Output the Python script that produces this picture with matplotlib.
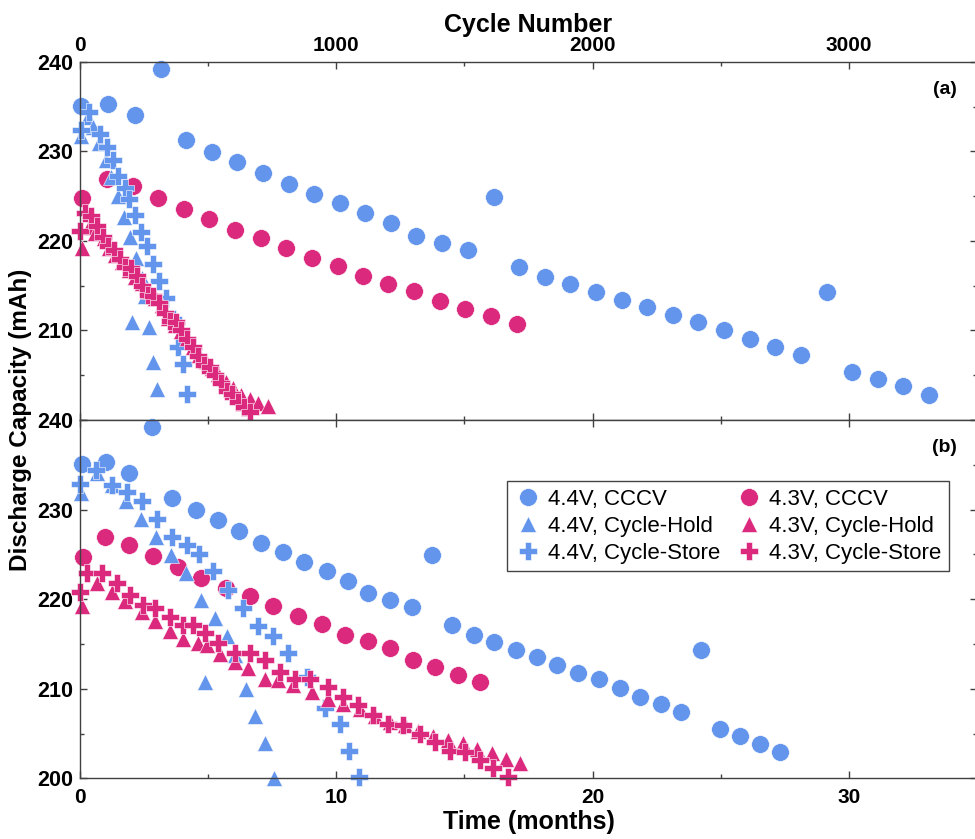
import matplotlib
matplotlib.use("Agg")
import matplotlib.pyplot as plt
from matplotlib.ticker import MultipleLocator

plt.rcParams['font.family'] = ['Liberation Sans', 'DejaVu Sans']

BLUE = '#6495ED'
PINK = '#DB2A7E'

# ---------------- Panel (a): x = cycle number ----------------
a_cccv44_x = [4, 108, 213, 315, 415, 515, 614, 714, 814, 914, 1013, 1113, 1213, 1312, 1412, 1514, 1615,
              1714, 1813, 1913, 2012, 2113, 2213, 2312, 2412, 2513, 2613, 2713, 2812, 2913, 3012, 3112, 3212, 3313]
a_cccv44_y = [235.1, 235.35, 234.1, 239.2, 231.3, 229.9, 228.8, 227.6, 226.35, 225.3, 224.3, 223.1, 222.0, 220.6,
              219.8, 219.05, 224.9, 217.1, 216.0, 215.15, 214.3, 213.4, 212.6, 211.7, 211.0, 210.0, 209.05, 208.2,
              207.3, 214.3, 205.4, 204.6, 203.8, 202.8]

a_cccv43_x = [9, 104, 207, 306, 405, 505, 605, 705, 804, 904, 1005, 1105, 1203, 1303, 1403, 1503, 1604, 1704]
a_cccv43_y = [224.75, 226.98, 226.1, 224.85, 223.6, 222.45, 221.25, 220.3, 219.2, 218.1, 217.2, 216.1, 215.2,
              214.45, 213.25, 212.35, 211.6, 210.75]

a_hold44_x = [2, 30, 52, 73, 102, 122, 148, 170, 197, 220, 241, 255, 202, 268, 286, 302]
a_hold44_y = [231.7, 233.9, 232.7, 230.9, 229.1, 227.1, 225.0, 222.7, 220.4, 218.1, 215.85, 213.8, 211.0, 210.4,
              206.5, 203.5]

a_store44_x = [4, 37, 78, 104, 130, 150, 176, 192, 215, 237, 260, 286, 310, 336, 362, 384, 401, 418]
a_store44_y = [232.4, 234.4, 232.0, 230.55, 229.0, 227.3, 225.9, 224.7, 222.9, 221.05, 219.4, 217.4, 215.5,
               213.6, 211.3, 208.2, 206.3, 202.9]

a_hold43_x = [8, 35, 60, 92, 112, 138, 164, 190, 216, 242, 268, 294, 320, 345, 370, 395, 418, 440, 465, 490,
              515, 540, 570, 598, 630, 663, 696, 735]
a_hold43_y = [219.2, 221.6, 220.9, 220.3, 219.2, 218.45, 217.7, 216.8, 216.0, 215.3, 214.4, 213.6, 212.9, 211.4,
              210.65, 209.9, 209.2, 208.2, 207.3, 206.55, 205.8, 205.1, 204.3, 203.6, 202.8, 202.3, 201.9, 201.6]

a_store43_x = [0, 21, 44, 66, 88, 110, 133, 155, 176, 198, 221, 243, 264, 286, 309, 330, 352, 375, 396, 418,
               440, 462, 485, 506, 528, 550, 572, 594, 617, 640, 663]
a_store43_y = [221.1, 223.1, 222.8, 221.7, 220.5, 219.4, 219.0, 218.0, 217.1, 217.0, 216.1, 215.0, 214.0, 213.8,
               213.1, 211.9, 211.1, 211.0, 210.1, 209.0, 208.2, 207.1, 206.1, 205.9, 205.0, 204.1, 203.2, 202.9,
               202.0, 201.5, 200.9]

# ---------------- Panel (b): x = time in months ----------------
b_cccv44_x = [0.07, 1.0, 1.91, 2.8, 3.6, 4.51, 5.37, 6.22, 7.06, 7.93, 8.75, 9.62, 10.44, 11.25, 12.1, 12.94,
              13.75, 14.53, 15.37, 16.15, 17.0, 17.82, 18.62, 19.42, 20.25, 21.07, 21.85, 22.66, 23.44, 24.22,
              24.97, 25.75, 26.53, 27.31]
b_cccv44_y = [235.05, 235.35, 234.1, 239.2, 231.25, 229.95, 228.8, 227.65, 226.3, 225.3, 224.2, 223.1, 222.0,
              220.65, 219.85, 219.1, 224.9, 217.1, 216.0, 215.2, 214.3, 213.5, 212.6, 211.7, 211.1, 210.05, 209.1,
              208.3, 207.4, 214.3, 205.5, 204.7, 203.8, 202.9]

b_cccv43_x = [0.1, 0.99, 1.92, 2.86, 3.81, 4.73, 5.68, 6.63, 7.54, 8.49, 9.43, 10.34, 11.25, 12.1, 13.0, 13.85,
              14.74, 15.61]
b_cccv43_y = [224.75, 226.98, 226.1, 224.85, 223.6, 222.4, 221.2, 220.3, 219.2, 218.1, 217.2, 216.0, 215.3,
              214.5, 213.2, 212.4, 211.5, 210.8]

b_hold44_x = [0.04, 0.65, 1.24, 1.79, 2.38, 2.97, 3.54, 4.12, 4.71, 5.27, 5.72, 6.05, 4.88, 6.46, 6.83, 7.22, 7.57]
b_hold44_y = [231.9, 234.05, 232.75, 231.0, 228.95, 226.9, 224.95, 222.9, 219.9, 217.9, 215.85, 213.8, 210.8,
              209.95, 206.95, 203.9, 200.0]

b_store44_x = [0.0, 0.62, 1.24, 1.82, 2.4, 3.0, 3.6, 4.16, 4.66, 5.2, 5.79, 6.37, 6.96, 7.54, 8.13, 8.84, 9.56,
               10.14, 10.5, 10.9]
b_store44_y = [232.9, 234.4, 232.75, 232.0, 231.0, 228.95, 226.9, 226.0, 225.0, 223.1, 221.0, 219.0, 217.0, 215.9,
               214.0, 211.35, 207.9, 206.1, 203.0, 200.1]

b_hold43_x = [0.07, 0.65, 1.24, 1.76, 2.4, 2.93, 3.51, 4.03, 4.62, 4.94, 5.46, 6.05, 6.57, 7.22, 7.74, 8.32,
              9.04, 9.69, 10.27, 10.93, 11.51, 12.1, 12.68, 13.2, 13.79, 14.37, 14.96, 15.48, 16.06, 16.62, 17.17]
b_hold43_y = [219.25, 221.8, 220.85, 219.75, 218.6, 217.6, 216.5, 215.55, 215.05, 214.9, 213.85, 213.0, 212.3,
              211.1, 210.95, 210.4, 209.6, 208.9, 208.3, 207.7, 206.9, 206.3, 205.9, 205.3, 204.7, 204.3, 203.9,
              203.3, 202.8, 202.2, 201.7]

b_store43_x = [0.0, 0.26, 0.85, 1.43, 1.95, 2.47, 2.93, 3.51, 4.03, 4.42, 4.88, 5.4, 6.05, 6.63, 7.22, 7.8, 8.39,
               8.97, 9.69, 10.27, 10.86, 11.45, 12.03, 12.6, 13.27, 13.85, 14.44, 15.02, 15.6, 16.13, 16.71]
b_store43_y = [220.85, 222.9, 222.9, 221.8, 220.5, 219.4, 219.0, 218.05, 217.1, 217.1, 216.2, 215.05, 213.95,
               213.95, 213.2, 211.9, 211.1, 211.1, 210.2, 209.05, 208.2, 207.05, 206.1, 205.9, 205.0, 204.05, 203.1,
               202.95, 202.0, 201.1, 200.2]

labels = ['4.4V, CCCV', '4.3V, CCCV', '4.4V, Cycle-Hold', '4.4V, Cycle-Store', '4.3V, Cycle-Hold',
          '4.3V, Cycle-Store']
styles = [(BLUE, 'o', 12.8), (PINK, 'o', 12.8), (BLUE, '^', 12), (BLUE, 'P', 12.3), (PINK, '^', 12),
          (PINK, 'P', 12.3)]

W, H = 975, 839
fig = plt.figure(figsize=(W / 100, H / 100), dpi=100)
left = 80 / W
width = 897 / W
ax_a = fig.add_axes([left, 1 - 420 / H, width, 358 / H])
ax_b = fig.add_axes([left, 1 - 778.3 / H, width, 358.3 / H])

series_a = [(a_cccv44_x, a_cccv44_y), (a_cccv43_x, a_cccv43_y), (a_hold44_x, a_hold44_y),
            (a_store44_x, a_store44_y), (a_hold43_x, a_hold43_y), (a_store43_x, a_store43_y)]
series_b = [(b_cccv44_x, b_cccv44_y), (b_cccv43_x, b_cccv43_y), (b_hold44_x, b_hold44_y),
            (b_store44_x, b_store44_y), (b_hold43_x, b_hold43_y), (b_store43_x, b_store43_y)]

handles = {}
for ax, series in ((ax_a, series_a), (ax_b, series_b)):
    for (x, y), lab, (c, m, ms) in zip(series, labels, styles):
        h, = ax.plot(x, y, linestyle='none', marker=m, markersize=ms, color=c,
                     markeredgecolor='white', markeredgewidth=0.4, label=lab, clip_on=False)
        if ax is ax_b:
            handles[lab] = h

spine_color = '#404040'
for ax in (ax_a, ax_b):
    ax.set_ylim(200, 240)
    ax.yaxis.set_major_locator(MultipleLocator(10))
    ax.yaxis.set_minor_locator(MultipleLocator(5))
    for s in ax.spines.values():
        s.set_color(spine_color)
        s.set_linewidth(1.0)
    ax.tick_params(which='both', direction='in', top=True, right=True, colors=spine_color,
                   labelcolor='black', width=1.0)
    ax.tick_params(which='major', length=5, pad=5, labelsize=15)
    ax.tick_params(which='minor', length=3)

# Panel (a)
ax_a.set_xlim(0, 3500)
ax_a.xaxis.set_minor_locator(MultipleLocator(500))
ax_a.tick_params(axis='x', labeltop=True, labelbottom=False)
ax_a.set_yticks([200, 210, 220, 230, 240])
ax_a.set_yticklabels(['', '210', '220', '230', '240'], fontweight='bold', fontsize=15.5)
ax_a.set_xticks([0, 1000, 2000, 3000])
ax_a.set_xticklabels(['0', '1000', '2000', '3000'], fontweight='bold', fontsize=15)
ax_a.xaxis.set_label_position('top')
ax_a.set_xlabel('Cycle Number', fontsize=18, fontweight='bold', labelpad=3)
ax_a.text(0.978, 0.922, '(a)', transform=ax_a.transAxes, ha='right', va='center',
          fontsize=14, fontweight='bold')

# Panel (b)
ax_b.set_xlim(0, 35)
ax_b.xaxis.set_minor_locator(MultipleLocator(5))
ax_b.set_xticks([0, 10, 20, 30])
ax_b.set_xticklabels(['0', '10', '20', '30'], fontweight='bold', fontsize=15)
ax_b.tick_params(axis='x', which='major', pad=7)
ax_b.set_yticks([200, 210, 220, 230, 240])
ax_b.set_yticklabels(['200', '210', '220', '230', '240'], fontweight='bold', fontsize=15.5)
ax_b.set_xlabel('Time (months)', fontsize=18, fontweight='bold', labelpad=2)
ax_b.text(0.978, 0.922, '(b)', transform=ax_b.transAxes, ha='right', va='center',
          fontsize=14, fontweight='bold')

order = ['4.4V, CCCV', '4.4V, Cycle-Hold', '4.4V, Cycle-Store', '4.3V, CCCV', '4.3V, Cycle-Hold',
         '4.3V, Cycle-Store']
leg = ax_b.legend([handles[k] for k in order], order, ncol=2, loc='upper left',
                  bbox_to_anchor=(0.476, 0.830), borderaxespad=0, fontsize=16, frameon=True,
                  fancybox=False, framealpha=1, edgecolor='#444444', borderpad=0.35,
                  handlelength=1.15, handletextpad=0.35, columnspacing=0.7, labelspacing=0.27)
leg.get_frame().set_linewidth(1.0)

fig.text(21 / W, 1 - 420 / H, 'Discharge Capacity (mAh)', rotation=90, ha='center', va='center',
         fontsize=17.5, fontweight='bold')

fig.savefig('out.png', dpi=100)
